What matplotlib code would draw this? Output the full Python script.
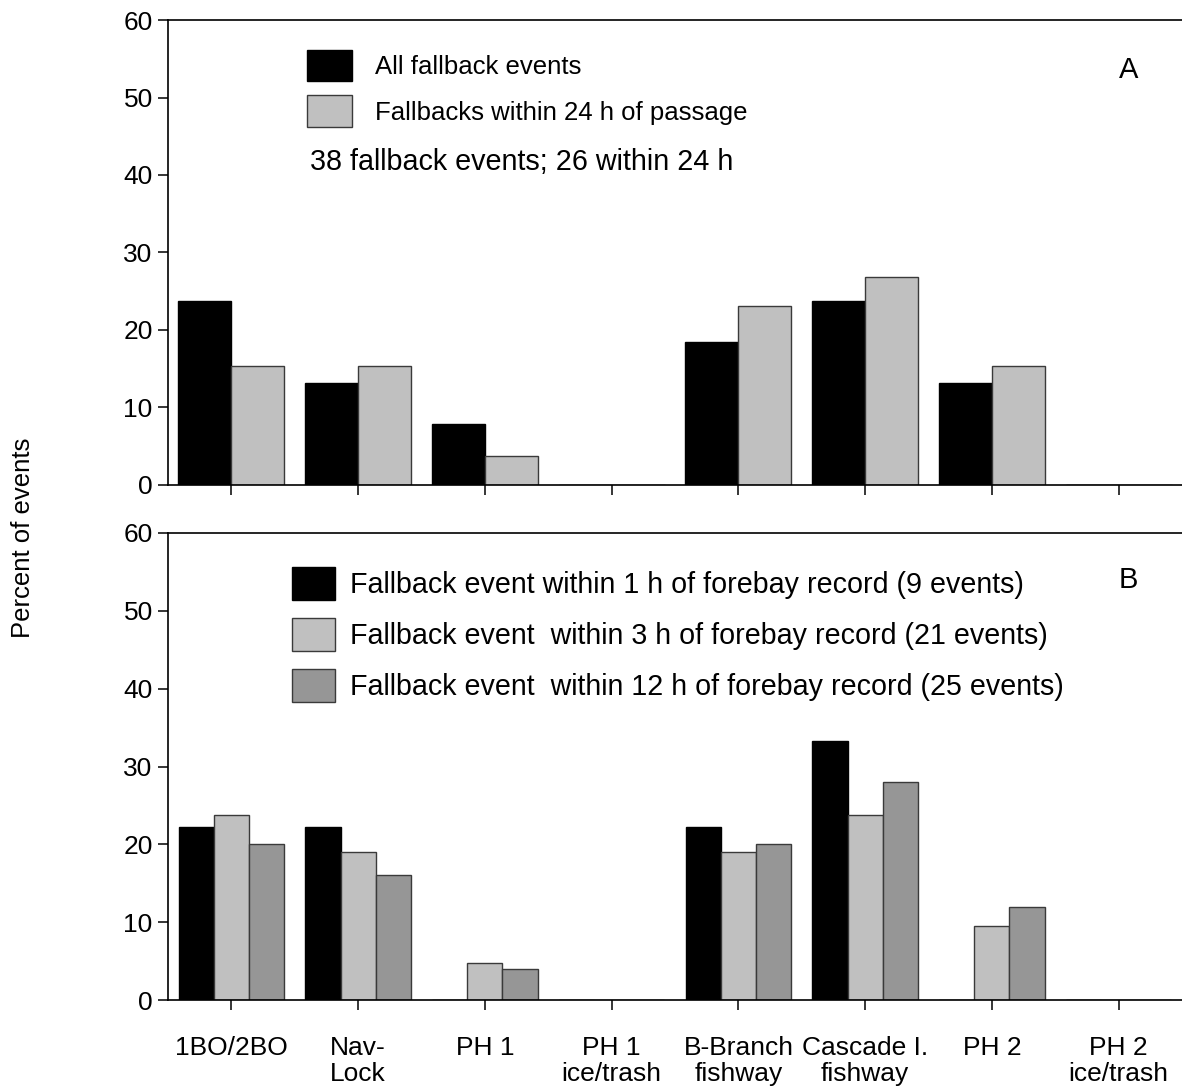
import numpy as np
import matplotlib
matplotlib.use("Agg")
import matplotlib.pyplot as plt

plt.rcParams['font.family'] = ['Liberation Sans', 'DejaVu Sans']

# Fallback locations (x categories)
categories = ["1BO/2BO", "Nav-\nLock", "PH 1", "PH 1\nice/trash",
              "B-Branch\nfishway", "Cascade I.\nfishway", "PH 2", "PH 2\nice/trash"]

# Panel A: percent of events (38 fallbacks; 26 within 24 h)
all_fallbacks = [23.7, 13.2, 7.9, 0.0, 18.4, 23.7, 13.2, 0.0]
within_24h = [15.4, 15.4, 3.8, 0.0, 23.1, 26.9, 15.4, 0.0]

# Panel B: percent of events relative to forebay record
within_1h = [22.2, 22.2, 0.0, 0.0, 22.2, 33.3, 0.0, 0.0]
within_3h = [23.8, 19.0, 4.8, 0.0, 19.0, 23.8, 9.5, 0.0]
within_12h = [20.0, 16.0, 4.0, 0.0, 20.0, 28.0, 12.0, 0.0]

labels_a = ["All fallback events", "Fallbacks within 24 h of passage"]
labels_b = ["Fallback event within 1 h of forebay record (9 events)",
            "Fallback event  within 3 h of forebay record (21 events)",
            "Fallback event  within 12 h of forebay record (25 events)"]

BLACK = "#000000"
LIGHT = "#c0c0c0"
DARK = "#969696"
EDGE = "#3a3a3a"

W, H = 1182, 1087
fig = plt.figure(figsize=(W / 100, H / 100), dpi=100)

left = 168 / W
width = 1.0 - left
ax_a = fig.add_axes([left, 1 - 485 / H, width, (485 - 20) / H])
ax_b = fig.add_axes([left, 1 - 1000 / H, width, (1000 - 533) / H])

x = np.arange(len(categories))

# Panel A bars
wa = 0.418
bars_a1 = ax_a.bar(x - wa / 2, all_fallbacks, wa, color=BLACK, edgecolor=BLACK, linewidth=1)
bars_a2 = ax_a.bar(x + wa / 2, within_24h, wa, color=LIGHT, edgecolor=EDGE, linewidth=1)

# Panel B bars
wb = 0.278
bars_b1 = ax_b.bar(x - wb, within_1h, wb, color=BLACK, edgecolor=BLACK, linewidth=1)
bars_b2 = ax_b.bar(x, within_3h, wb, color=LIGHT, edgecolor=EDGE, linewidth=1)
bars_b3 = ax_b.bar(x + wb, within_12h, wb, color=DARK, edgecolor=EDGE, linewidth=1)

for ax in (ax_a, ax_b):
    ax.set_xlim(-0.5, 7.5)
    ax.set_ylim(0, 60)
    ax.set_yticks(range(0, 61, 10))
    ax.set_xticks(x)
    ax.spines['right'].set_visible(False)
    for s in ('left', 'bottom', 'top'):
        ax.spines[s].set_linewidth(1.2)
    ax.tick_params(axis='both', direction='out', length=7, width=1.1,
                   labelsize=19, pad=4)

ax_a.set_xticklabels([])
ax_b.set_xticklabels(categories, fontsize=19, linespacing=1.1)
ax_b.tick_params(axis='x', pad=19)

# Legends
ax_a.legend([bars_a1, bars_a2], labels_a, loc='upper left',
            bbox_to_anchor=((307 - 168) / 1014, (485 - 50) / 465),
            frameon=False, fontsize=18.5, borderpad=0, borderaxespad=0,
            handlelength=1.75, handleheight=1.5, handletextpad=0.9,
            labelspacing=0.55)
ax_a.text((310 - 168) / 1014, (485 - 162) / 465, "38 fallback events; 26 within 24 h",
          transform=ax_a.transAxes, fontsize=20.7, va='center', ha='left')
ax_a.text(0.947, 0.892, "A", transform=ax_a.transAxes, fontsize=21,
          ha='center', va='center')

ax_b.legend([bars_b1, bars_b2, bars_b3], labels_b, loc='upper left',
            bbox_to_anchor=((292 - 168) / 1014, (1000 - 567) / 467),
            frameon=False, fontsize=20.6, borderpad=0, borderaxespad=0,
            handlelength=1.49, handleheight=1.4, handletextpad=0.52,
            labelspacing=0.62)
ax_b.text(0.947, 0.899, "B", transform=ax_b.transAxes, fontsize=21,
          ha='center', va='center')

fig.text(23 / W, 1 - 538 / H, "Percent of events", rotation=90,
         fontsize=18.5, ha='center', va='center')

fig.savefig("out.png", dpi=100)
